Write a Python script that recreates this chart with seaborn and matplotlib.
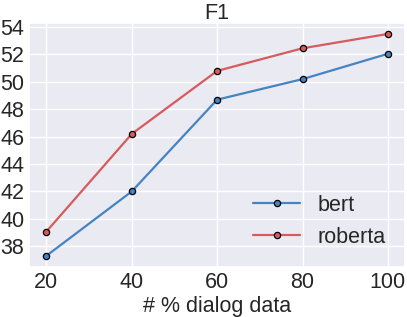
import matplotlib
matplotlib.use("Agg")
import matplotlib.pyplot as plt
import seaborn as sns
import pandas as pd

# % of dialog data used for training
dialog_pct = [20, 40, 60, 80, 100]
bert_f1 = [37.3, 42.0, 48.7, 50.2, 52.05]
roberta_f1 = [39.07, 46.2, 50.8, 52.45, 53.5]

df = pd.DataFrame({
    "pct": dialog_pct * 2,
    "f1": bert_f1 + roberta_f1,
    "model": ["bert"] * len(dialog_pct) + ["roberta"] * len(dialog_pct),
})

sns.set_theme(style="darkgrid")
plt.rcParams["font.family"] = ["Liberation Sans", "DejaVu Sans"]

palette = {"bert": "#4583C1", "roberta": "#D65B5D"}
fs = 15.5

fig, ax = plt.subplots(figsize=(4.07, 3.17), dpi=100)
sns.lineplot(data=df, x="pct", y="f1", hue="model", palette=palette,
             marker="o", markersize=4.5, markeredgecolor="black",
             markeredgewidth=0.9, linewidth=1.6, ax=ax)

ax.set_title("F1", fontsize=fs, pad=3)
ax.set_xlabel("# % dialog data", fontsize=fs, labelpad=2)
ax.set_ylabel("")
ax.set_xticks(dialog_pct)
ax.set_yticks(range(38, 55, 2))
ax.tick_params(labelsize=fs, length=0, pad=3.5)

ax.legend(loc="lower right", fontsize=fs, frameon=False, handlelength=2.2)

fig.subplots_adjust(left=0.072, right=0.995, top=0.928, bottom=0.158)
fig.savefig("out.png", dpi=100)
